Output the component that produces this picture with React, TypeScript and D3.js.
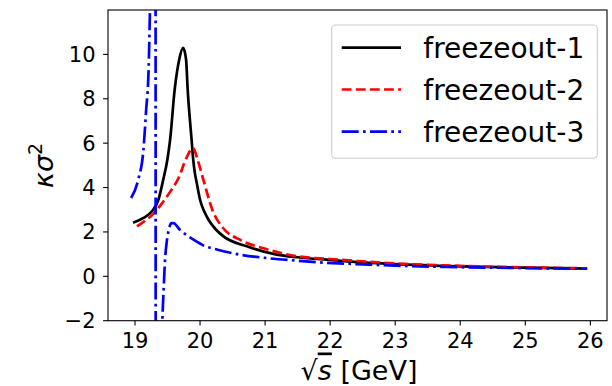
import React from "react";
import * as d3 from "d3";

// ---- data ----
const seriesNames = ["freezeout-1", "freezeout-2", "freezeout-3"];

const f1X = [18.97, 19.13, 19.26, 19.36, 19.43, 19.5, 19.54, 19.61, 19.68, 19.74, 19.785, 19.81, 19.87, 19.895, 19.92, 19.95, 20.0, 20.06, 20.13, 20.24, 20.36, 20.72, 21.18, 21.5, 22, 22.5, 23, 24, 25, 25.95];
const f1Y = [2.41, 2.63, 2.93, 3.45, 4.3, 5.3, 6.16, 8.41, 9.77, 10.29, 9.77, 8.41, 6.16, 5.26, 4.66, 4.2, 3.45, 2.95, 2.55, 2.12, 1.8, 1.35, 0.98, 0.86, 0.74, 0.63, 0.55, 0.45, 0.39, 0.35];

const f2X = [19.03, 19.12, 19.27, 19.4, 19.55, 19.67, 19.79, 19.89, 19.97, 20.05, 20.2, 20.35, 20.61, 20.99, 21.5, 22, 22.5, 23, 24, 25, 25.95];
const f2Y = [2.25, 2.43, 2.78, 3.23, 3.85, 4.43, 5.33, 5.78, 5.18, 4.36, 2.91, 2.19, 1.65, 1.25, 0.9, 0.78, 0.67, 0.58, 0.47, 0.4, 0.36];

const f3X = [18.94, 19.05, 19.13, 19.17, 19.21, 19.225, 19.25, 19.28, 19.31, 19.325, 19.36, 19.4, 19.42, 19.44, 19.46, 19.49, 19.52, 19.56, 19.59, 19.69, 19.9, 20.06, 20.27, 20.61, 21.0, 21.47, 21.89, 22.5, 23, 24, 25, 25.95];
const f3Y = [3.53, 4.36, 5.71, 7.43, 9.39, 11.3, 15, 25, 80, -80, -20, -4, -2, -0.6, 0.66, 1.6, 2.1, 2.4, 2.4, 2.1, 1.65, 1.38, 1.2, 0.98, 0.83, 0.71, 0.62, 0.54, 0.48, 0.41, 0.37, 0.34];

const xTicks = [19, 20, 21, 22, 23, 24, 25, 26];
const yTicks = [-2, 0, 2, 4, 6, 8, 10];

// ---- layout ----
const W = 612, H = 386;
const L = 108, R = 607, T = 10, B = 320.7;
const FONT = "'DejaVu Sans', sans-serif";

export default function App() {
  const x = d3.scaleLinear().domain([18.585, 26.256]).range([L, R]);
  const y = d3.scaleLinear().domain([-2, 12]).range([B, T]);
  const line = d3
    .line<[number, number]>()
    .x((d) => x(d[0]))
    .y((d) => y(d[1]))
    .curve(d3.curveMonotoneX);

  const zip = (xs: number[], ys: number[]) => xs.map((v, i) => [v, ys[i]] as [number, number]);
  const series = [
    { name: seriesNames[0], d: zip(f1X, f1Y), color: "#000000", dash: "" },
    { name: seriesNames[1], d: zip(f2X, f2Y), color: "#ff0000", dash: "9.8,4.3" },
    { name: seriesNames[2], d: zip(f3X, f3Y), color: "#0000ff", dash: "17,4.3,2.7,4.3" },
  ];
  const lw = 2.7;

  const legX = 331.7, legY = 25, legW = 265.6, legH = 133.3;
  const rowY = [47.7, 89.5, 131.7];

  return (
    <svg
      width={W}
      height={H}
      style={{ position: "absolute", left: 0, top: 0, background: "#fff" }}
      fontFamily={FONT}
    >
      <defs>
        <clipPath id="plotclip">
          <rect x={L} y={T} width={R - L} height={B - T} />
        </clipPath>
      </defs>
      <rect x={0} y={0} width={W} height={H} fill="#fff" />

      <g clipPath="url(#plotclip)">
        {series.map((s) => (
          <path
            key={s.name}
            d={line(s.d) || ""}
            fill="none"
            stroke={s.color}
            strokeWidth={lw}
            strokeDasharray={s.dash || undefined}
            strokeLinejoin="round"
          />
        ))}
      </g>

      {/* spines */}
      <rect x={L} y={T} width={R - L} height={B - T} fill="none" stroke="#000" strokeWidth={1.1} />

      {/* x ticks */}
      {xTicks.map((t) => (
        <g key={"x" + t}>
          <line x1={x(t)} x2={x(t)} y1={B} y2={B + 4.9} stroke="#000" strokeWidth={1.1} />
          <text x={x(t)} y={348.3} textAnchor="middle" fontSize={21} fill="#000">
            {t}
          </text>
        </g>
      ))}
      {/* y ticks */}
      {yTicks.map((t) => (
        <g key={"y" + t}>
          <line x1={L - 4.9} x2={L} y1={y(t)} y2={y(t)} stroke="#000" strokeWidth={1.1} />
          <text x={95.5} y={y(t)} dy="0.36em" textAnchor="end" fontSize={21} fill="#000">
            {t < 0 ? "\u2212" + Math.abs(t) : t}
          </text>
        </g>
      ))}

      {/* x label */}
      <text x={359} y={379.5} textAnchor="middle" fontSize={27} fill="#000">
        <tspan>√</tspan>
        <tspan fontStyle="italic" textDecoration="overline">s</tspan>
        <tspan> [GeV]</tspan>
      </text>

      {/* y label */}
      <text
        transform={`translate(53,${(T + B) / 2}) rotate(-90)`}
        textAnchor="middle"
        fontSize={27}
        fill="#000"
      >
        <tspan fontStyle="italic">κσ</tspan>
        <tspan fontSize={19} dy={-11}>2</tspan>
      </text>

      {/* legend */}
      <rect
        x={legX}
        y={legY}
        width={legW}
        height={legH}
        rx={4}
        fill="#fff"
        fillOpacity={0.8}
        stroke="#cccccc"
        strokeWidth={1.1}
      />
      {series.map((s, i) => (
        <g key={"leg" + s.name}>
          <line
            x1={341.7}
            x2={401}
            y1={rowY[i]}
            y2={rowY[i]}
            stroke={s.color}
            strokeWidth={lw}
            strokeDasharray={s.dash || undefined}
          />
          <text x={423.3} y={rowY[i]} dy="0.36em" fontSize={28} fill="#000">
            {s.name}
          </text>
        </g>
      ))}
    </svg>
  );
}
